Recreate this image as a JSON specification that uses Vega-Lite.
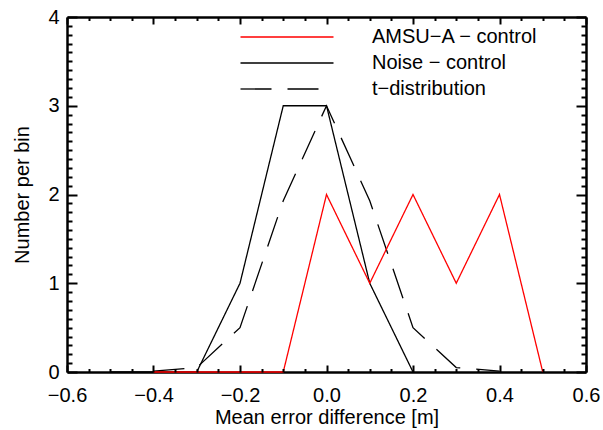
{
  "$schema": "https://vega.github.io/schema/vega-lite/v6.json",
  "width": 519,
  "height": 355,
  "autosize": {"type": "none"},
  "padding": {"left": 67, "top": 17, "right": 17, "bottom": 58},
  "background": "white",
  "config": {
    "view": {"stroke": null, "fill": null},
    "font": "Liberation Sans",
    "axis": {
      "domainColor": "black",
      "domainWidth": 2.5,
      "tickColor": "black",
      "tickWidth": 2,
      "tickOpacity": 1,
      "labelColor": "black",
      "labelFontSize": 20,
      "labelFont": "Liberation Sans",
      "titleFont": "Liberation Sans",
      "titleFontSize": 20,
      "titleFontWeight": "normal",
      "titleColor": "black",
      "labelFlush": false,
      "labelOverlap": false,
      "zindex": 1
    }
  },
  "data": {
    "values": [
      {"series": "Noise − control", "x": -0.5, "y": 0},
      {"series": "Noise − control", "x": -0.4, "y": 0},
      {"series": "Noise − control", "x": -0.3, "y": 0},
      {"series": "Noise − control", "x": -0.2, "y": 1},
      {"series": "Noise − control", "x": -0.1, "y": 3},
      {"series": "Noise − control", "x": 0.0, "y": 3},
      {"series": "Noise − control", "x": 0.1, "y": 1},
      {"series": "Noise − control", "x": 0.2, "y": 0},
      {"series": "t−distribution", "x": -0.4, "y": 0.01},
      {"series": "t−distribution", "x": -0.3, "y": 0.05},
      {"series": "t−distribution", "x": -0.2, "y": 0.5},
      {"series": "t−distribution", "x": -0.1, "y": 1.93},
      {"series": "t−distribution", "x": 0.0, "y": 3.0},
      {"series": "t−distribution", "x": 0.1, "y": 1.93},
      {"series": "t−distribution", "x": 0.2, "y": 0.5},
      {"series": "t−distribution", "x": 0.3, "y": 0.05},
      {"series": "t−distribution", "x": 0.4, "y": 0.01},
      {"series": "AMSU−A − control", "x": -0.4, "y": 0},
      {"series": "AMSU−A − control", "x": -0.3, "y": 0},
      {"series": "AMSU−A − control", "x": -0.2, "y": 0},
      {"series": "AMSU−A − control", "x": -0.1, "y": 0},
      {"series": "AMSU−A − control", "x": 0.0, "y": 2},
      {"series": "AMSU−A − control", "x": 0.1, "y": 1},
      {"series": "AMSU−A − control", "x": 0.2, "y": 2},
      {"series": "AMSU−A − control", "x": 0.3, "y": 1},
      {"series": "AMSU−A − control", "x": 0.4, "y": 2},
      {"series": "AMSU−A − control", "x": 0.5, "y": 0}
    ]
  },
  "layer": [
    {
      "mark": {"type": "line", "strokeWidth": 1.3, "clip": false},
      "encoding": {
        "x": {
          "field": "x", "type": "quantitative",
          "scale": {"domain": [-0.6, 0.6], "nice": false, "zero": false},
          "axis": {
            "orient": "bottom",
            "values": [-0.6, -0.4, -0.2, 0, 0.2, 0.4, 0.6],
            "format": ".1f",
            "ticks": false,
            "tickSize": 0,
            "grid": false,
            "labelPadding": 13,
            "title": "Mean error difference [m]",
            "titlePadding": 2
          }
        },
        "y": {
          "field": "y", "type": "quantitative",
          "scale": {"domain": [0, 4], "nice": false, "zero": false},
          "axis": {
            "orient": "left",
            "values": [0, 1, 2, 3, 4],
            "format": "d",
            "ticks": false,
            "tickSize": 0,
            "grid": false,
            "labelPadding": 8,
            "title": "Number per bin",
            "titlePadding": 15
          }
        },
        "color": {
          "field": "series", "type": "nominal",
          "scale": {"domain": ["AMSU−A − control", "Noise − control", "t−distribution"], "range": ["#ff0000", "#000000", "#000000"]},
          "legend": {
            "title": null, "orient": "none", "legendX": 210, "legendY": 10,
            "symbolType": "M-46.5,0H46.5", "symbolSize": 4, "symbolStrokeWidth": 1.3,
            "labelFontSize": 20, "labelFont": "Liberation Sans", "labelColor": "black", "labelLimit": 0,
            "labelOffset": 75, "rowPadding": 6, "padding": 0
          }
        },
        "strokeDash": {
          "field": "series", "type": "nominal",
          "scale": {"domain": ["AMSU−A − control", "Noise − control", "t−distribution"], "range": [[1, 0], [1, 0], [31, 16]]},
          "legend": {
            "title": null, "orient": "none", "legendX": 210, "legendY": 10,
            "symbolType": "M-46.5,0H46.5", "symbolSize": 4, "symbolStrokeWidth": 1.3,
            "labelFontSize": 20, "labelFont": "Liberation Sans", "labelColor": "black", "labelLimit": 0,
            "labelOffset": 75, "rowPadding": 6, "padding": 0
          }
        }
      }
    },
    {
      "mark": {"type": "line", "opacity": 0},
      "encoding": {
        "x": {
          "field": "x", "type": "quantitative",
          "axis": {"orient": "bottom", "values": [-0.6, -0.4, -0.2, 0, 0.2, 0.4, 0.6], "labels": false, "domain": false, "ticks": true, "grid": false, "title": null, "tickSize": 7, "offset": -7, "zindex": 2}
        },
        "y": {
          "field": "y", "type": "quantitative",
          "axis": {"orient": "left", "values": [0, 1, 2, 3, 4], "labels": false, "domain": false, "ticks": true, "grid": false, "title": null, "tickSize": 10, "offset": -10, "zindex": 2}
        }
      }
    },
    {
      "mark": {"type": "line", "opacity": 0},
      "encoding": {
        "x": {
          "field": "x", "type": "quantitative",
          "axis": {"orient": "bottom", "values": [-0.55,-0.5,-0.45,-0.35,-0.3,-0.25,-0.15,-0.1,-0.05,0.05,0.1,0.15,0.25,0.3,0.35,0.45,0.5,0.55], "labels": false, "domain": false, "ticks": true, "grid": false, "title": null, "tickSize": 3.5, "offset": -3.5, "zindex": 2}
        },
        "y": {
          "field": "y", "type": "quantitative",
          "axis": {"orient": "left", "values": [0.1,0.2,0.3,0.4,0.5,0.6,0.7,0.8,0.9,1.1,1.2,1.3,1.4,1.5,1.6,1.7,1.8,1.9,2.1,2.2,2.3,2.4,2.5,2.6,2.7,2.8,2.9,3.1,3.2,3.3,3.4,3.5,3.6,3.7,3.8,3.9], "labels": false, "domain": false, "ticks": true, "grid": false, "title": null, "tickSize": 5, "offset": -5, "zindex": 2}
        }
      }
    },
    {
      "mark": {"type": "line", "opacity": 0},
      "encoding": {
        "x": {
          "field": "x", "type": "quantitative",
          "axis": {"orient": "top", "values": [-0.6, -0.4, -0.2, 0, 0.2, 0.4, 0.6], "labels": false, "domain": false, "ticks": true, "grid": false, "title": null, "tickSize": 7, "offset": -7, "zindex": 2}
        },
        "y": {
          "field": "y", "type": "quantitative",
          "axis": {"orient": "right", "values": [0, 1, 2, 3, 4], "labels": false, "domain": false, "ticks": true, "grid": false, "title": null, "tickSize": 10, "offset": -10, "zindex": 2}
        }
      }
    },
    {
      "mark": {"type": "line", "opacity": 0},
      "encoding": {
        "x": {
          "field": "x", "type": "quantitative",
          "axis": {"orient": "top", "values": [-0.55,-0.5,-0.45,-0.35,-0.3,-0.25,-0.15,-0.1,-0.05,0.05,0.1,0.15,0.25,0.3,0.35,0.45,0.5,0.55], "labels": false, "domain": false, "ticks": true, "grid": false, "title": null, "tickSize": 3.5, "offset": -3.5, "zindex": 2}
        },
        "y": {
          "field": "y", "type": "quantitative",
          "axis": {"orient": "right", "values": [0.1,0.2,0.3,0.4,0.5,0.6,0.7,0.8,0.9,1.1,1.2,1.3,1.4,1.5,1.6,1.7,1.8,1.9,2.1,2.2,2.3,2.4,2.5,2.6,2.7,2.8,2.9,3.1,3.2,3.3,3.4,3.5,3.6,3.7,3.8,3.9], "labels": false, "domain": false, "ticks": true, "grid": false, "title": null, "tickSize": 5, "offset": -5, "zindex": 2}
        }
      }
    },
    {
      "mark": {"type": "line", "opacity": 0},
      "encoding": {
        "x": {
          "field": "x", "type": "quantitative",
          "axis": {"orient": "top", "values": [], "labels": false, "ticks": false, "grid": false, "title": null}
        },
        "y": {
          "field": "y", "type": "quantitative",
          "axis": {"orient": "right", "values": [], "labels": false, "ticks": false, "grid": false, "title": null}
        }
      }
    }
  ],
  "resolve": {"axis": {"x": "independent", "y": "independent"}}
}
